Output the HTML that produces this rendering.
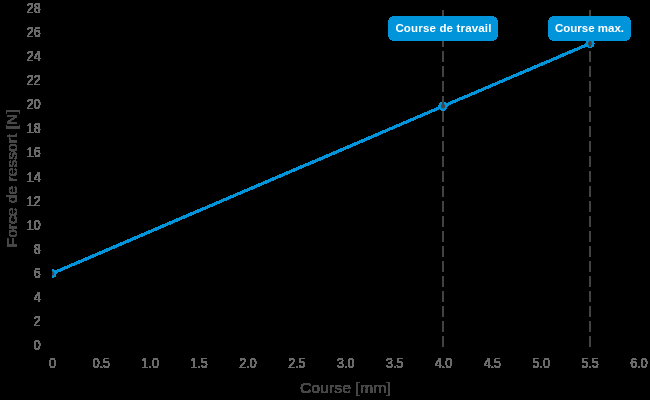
<!DOCTYPE html>
<html><head><meta charset="utf-8"><title>Chart</title>
<style>
html,body{margin:0;padding:0;background:#000;}
body{width:650px;height:400px;overflow:hidden;}
svg{display:block;}
text{font-family:"Liberation Sans",sans-serif;}
.tk{font-size:14.2px;fill:#6a6a6a;}
.ti{font-size:15.5px;fill:#474747;}
.lb{font-size:11.5px;font-weight:bold;fill:#fff;}
</style></head><body>
<svg width="650" height="400" viewBox="0 0 650 400">
<defs>
<filter id="t" x="0" y="0" width="650" height="400" filterUnits="userSpaceOnUse" color-interpolation-filters="sRGB">
<feComponentTransfer><feFuncA type="discrete" tableValues="0 1 1 1 1 1 1 1 1 1 1 1 1 1 1 1 1 1 1 1 1 1 1 1 1"/></feComponentTransfer>
</filter>
<clipPath id="c"><rect x="52" y="0" width="598" height="349"/></clipPath>
</defs>
<rect x="0" y="0" width="650" height="400" fill="#000"/>
<g filter="url(#t)">
<text transform="translate(40.6,350.30) scale(0.875,1)" text-anchor="end" class="tk">0</text>
<text transform="translate(40.6,326.19) scale(0.875,1)" text-anchor="end" class="tk">2</text>
<text transform="translate(40.6,302.08) scale(0.875,1)" text-anchor="end" class="tk">4</text>
<text transform="translate(40.6,277.97) scale(0.875,1)" text-anchor="end" class="tk">6</text>
<text transform="translate(40.6,253.86) scale(0.875,1)" text-anchor="end" class="tk">8</text>
<text transform="translate(40.6,229.75) scale(0.875,1)" text-anchor="end" class="tk">10</text>
<text transform="translate(40.6,205.64) scale(0.875,1)" text-anchor="end" class="tk">12</text>
<text transform="translate(40.6,181.53) scale(0.875,1)" text-anchor="end" class="tk">14</text>
<text transform="translate(40.6,157.42) scale(0.875,1)" text-anchor="end" class="tk">16</text>
<text transform="translate(40.6,133.31) scale(0.875,1)" text-anchor="end" class="tk">18</text>
<text transform="translate(40.6,109.20) scale(0.875,1)" text-anchor="end" class="tk">20</text>
<text transform="translate(40.6,85.09) scale(0.875,1)" text-anchor="end" class="tk">22</text>
<text transform="translate(40.6,60.98) scale(0.875,1)" text-anchor="end" class="tk">24</text>
<text transform="translate(40.6,36.87) scale(0.875,1)" text-anchor="end" class="tk">26</text>
<text transform="translate(40.6,12.76) scale(0.875,1)" text-anchor="end" class="tk">28</text>
<text transform="translate(52.50,367.9) scale(0.875,1)" text-anchor="middle" class="tk">0</text>
<text transform="translate(101.38,367.9) scale(0.875,1)" text-anchor="middle" class="tk">0.5</text>
<text transform="translate(150.25,367.9) scale(0.875,1)" text-anchor="middle" class="tk">1.0</text>
<text transform="translate(199.12,367.9) scale(0.875,1)" text-anchor="middle" class="tk">1.5</text>
<text transform="translate(248.00,367.9) scale(0.875,1)" text-anchor="middle" class="tk">2.0</text>
<text transform="translate(296.88,367.9) scale(0.875,1)" text-anchor="middle" class="tk">2.5</text>
<text transform="translate(345.75,367.9) scale(0.875,1)" text-anchor="middle" class="tk">3.0</text>
<text transform="translate(394.62,367.9) scale(0.875,1)" text-anchor="middle" class="tk">3.5</text>
<text transform="translate(443.50,367.9) scale(0.875,1)" text-anchor="middle" class="tk">4.0</text>
<text transform="translate(492.38,367.9) scale(0.875,1)" text-anchor="middle" class="tk">4.5</text>
<text transform="translate(541.25,367.9) scale(0.875,1)" text-anchor="middle" class="tk">5.0</text>
<text transform="translate(590.12,367.9) scale(0.875,1)" text-anchor="middle" class="tk">5.5</text>
<text transform="translate(639.00,367.9) scale(0.875,1)" text-anchor="middle" class="tk">6.0</text>
<text x="345.4" y="392.6" text-anchor="middle" class="ti" textLength="91" lengthAdjust="spacingAndGlyphs">Course [mm]</text>
<text transform="translate(16.9,178.4) rotate(-90)" x="0" y="0" text-anchor="middle" class="ti" textLength="138" lengthAdjust="spacingAndGlyphs">Force de ressort [N]</text>
<g clip-path="url(#c)">
<polyline points="52.0,273.5 443.0,106.3 590.0,43.45" fill="none" stroke="#0095db" stroke-width="2.3" stroke-linejoin="round"/>
<circle cx="52.0" cy="273.5" r="3.2" fill="#4c4440" stroke="#0095db" stroke-width="2"/>
<circle cx="443.0" cy="106.3" r="3.2" fill="#4c4440" stroke="#0095db" stroke-width="2"/>
<circle cx="590.0" cy="43.45" r="3.2" fill="#4c4440" stroke="#0095db" stroke-width="2"/>
</g>
<line x1="443.0" y1="347" x2="443.0" y2="10" stroke="#424242" stroke-width="2" stroke-dasharray="11 4"/>
<line x1="590.0" y1="347" x2="590.0" y2="10" stroke="#424242" stroke-width="2" stroke-dasharray="11 4"/>
<rect x="388" y="16" width="110" height="25" rx="6" ry="6" fill="#0095db" shape-rendering="crispEdges"/>
<text x="443.4" y="32.2" text-anchor="middle" class="lb" textLength="96" lengthAdjust="spacing">Course de travail</text>
<rect x="548" y="16" width="83" height="25" rx="6" ry="6" fill="#0095db" shape-rendering="crispEdges"/>
<text x="589.5" y="32.3" text-anchor="middle" class="lb" textLength="69" lengthAdjust="spacing">Course max.</text>
</g>
</svg>
</body></html>
